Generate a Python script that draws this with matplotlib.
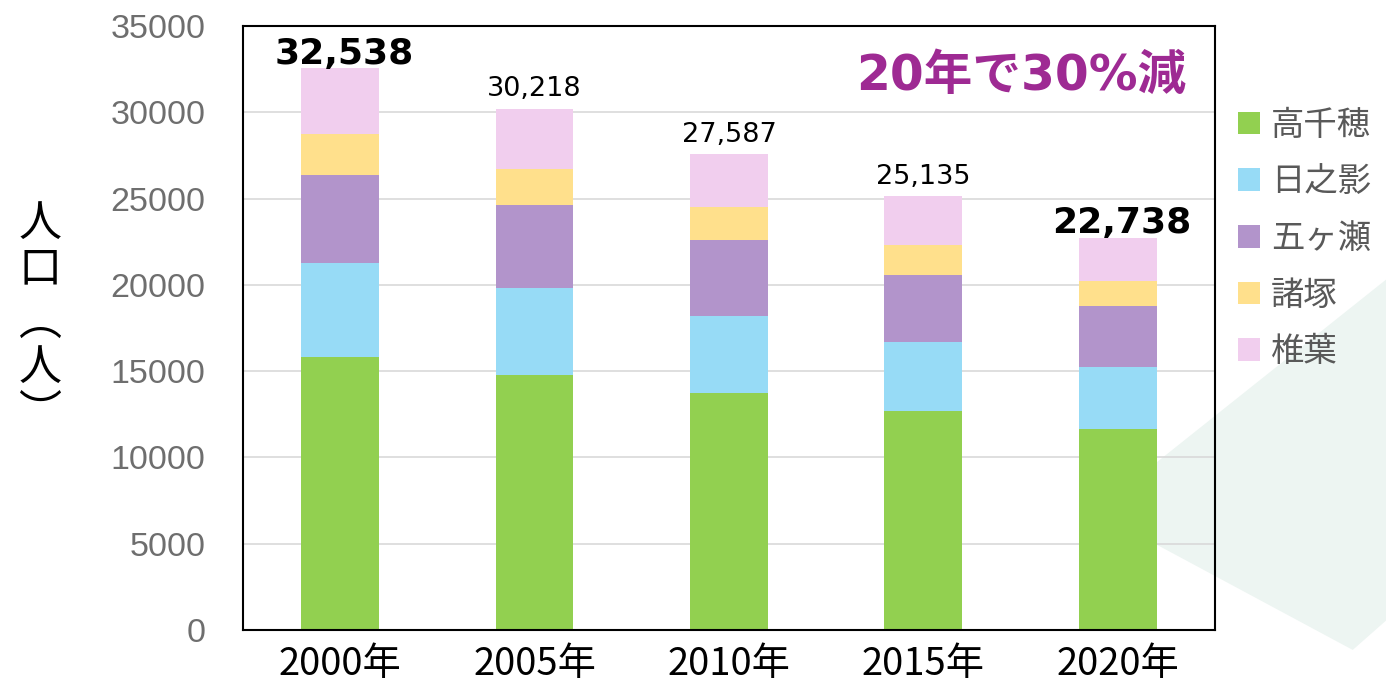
import matplotlib.pyplot as plt
from matplotlib.patches import Polygon
import numpy as np

years = ["2000年", "2005年", "2010年", "2015年", "2020年"]
towns = ["高千穂", "日之影", "五ヶ瀬", "諸塚", "椎葉"]

takachiho = [15840, 14750, 13710, 12720, 11620]
hinokage = [5430, 5090, 4490, 3980, 3640]
gokase = [5080, 4770, 4400, 3890, 3490]
morotsuka = [2400, 2110, 1900, 1720, 1450]
shiiba = [3788, 3498, 3087, 2825, 2538]

totals = [32538, 30218, 27587, 25135, 22738]
bold_labels = [True, False, False, False, True]

colors = ["#92D050", "#97DBF6", "#B294CB", "#FFE08C", "#F1CEEE"]

jp = ["Noto Sans CJK JP", "DejaVu Sans"]

fig = plt.figure(figsize=(13.86, 6.82), dpi=100)

# pale decorative shape behind the chart (right side)
bg = Polygon([[0.79, 0.25], [1.0, 0.59], [1.0, 0.09], [0.976, 0.047]],
             closed=True, transform=fig.transFigure,
             facecolor="#EDF5F2", edgecolor="none", zorder=-5)
fig.patches.append(bg)

ax = fig.add_axes([0.1753, 0.0762, 0.7013, 0.8857])
ax.set_facecolor("none")

x = np.arange(len(years))
series = [takachiho, hinokage, gokase, morotsuka, shiiba]
bottom = np.zeros(len(years))
handles = []
for name, vals, col in zip(towns, series, colors):
    b = ax.bar(x, vals, width=0.4, bottom=bottom, color=col, label=name,
               zorder=2)
    handles.append(b)
    bottom += np.array(vals)

for xi, tot, bold in zip(x, totals, bold_labels):
    if bold:
        ax.annotate(f"{tot:,}", (xi, tot), xytext=(3, -1.5),
                    textcoords="offset points", ha="center", va="bottom",
                    fontsize=26, fontweight="bold", family="DejaVu Sans")
    else:
        ax.annotate(f"{tot:,}", (xi, tot), xytext=(0, 4.5),
                    textcoords="offset points", ha="center", va="bottom",
                    fontsize=19.5, family="DejaVu Sans")

ax.set_xlim(-0.5, 4.5)
ax.set_ylim(0, 35000)
ax.set_yticks(np.arange(0, 35001, 5000))
ax.set_xticks(x)
ax.set_xticklabels(years, family=["Liberation Sans Narrow", "Noto Sans CJK JP"],
                   fontsize=27.5)
ax.tick_params(axis="x", length=0, pad=11)
ax.tick_params(axis="y", length=0, pad=27, labelsize=24.5, labelcolor="#6E6E6E")
for lab in ax.get_yticklabels():
    lab.set_family("Liberation Sans")

ax.yaxis.grid(True, color="#D9D9D9", linewidth=1.2, zorder=1)
ax.set_axisbelow(True)
for sp in ax.spines.values():
    sp.set_color("black")
    sp.set_linewidth(1.5)

ax.text(0.97, 0.918, "20年で30%減", transform=ax.transAxes, ha="right",
        va="center", fontsize=35, fontweight="bold", color="#9E2A93",
        family=["DejaVu Sans", "Noto Sans CJK JP"])

# vertical y label (upright characters)
fig.text(0.029, 1 - 246.5 / 682, "人\n口", ha="center", va="center",
         fontsize=31, family=jp, linespacing=1.04)
fig.text(0.029, 1 - 368 / 682, "︵\n人\n︶", ha="center", va="center",
         fontsize=31, family=jp, linespacing=1.04)

fig.legend(handles=handles, labels=towns, loc="upper left",
           bbox_to_anchor=(0.893, 0.842), frameon=False, prop={"family": jp,
           "size": 24}, labelcolor="#595959", handlelength=0.66,
           handleheight=0.66, handletextpad=0.33, labelspacing=0.65,
           borderpad=0, borderaxespad=0)

fig.savefig("out.png", dpi=100)
